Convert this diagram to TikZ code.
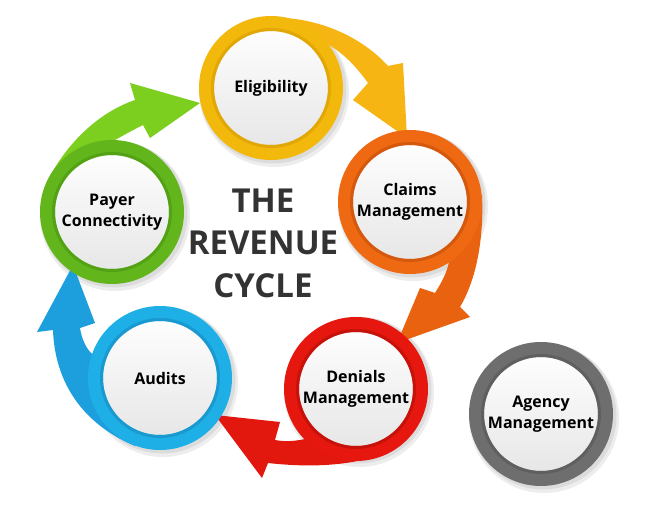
\documentclass[tikz,border=0pt]{standalone}
\usepackage{fontspec}
\setmainfont{Open Sans}
\definecolor{yelA}{HTML}{F7B514}
\definecolor{yelR}{HTML}{F3B80C}
\definecolor{yelS}{HTML}{D9A005}
\definecolor{oraA}{HTML}{E9620F}
\definecolor{oraR}{HTML}{EE6912}
\definecolor{oraS}{HTML}{C9520B}
\definecolor{redA}{HTML}{E2180F}
\definecolor{redR}{HTML}{E5170E}
\definecolor{redS}{HTML}{B91009}
\definecolor{bluA}{HTML}{1C9FDC}
\definecolor{bluR}{HTML}{1FAFE7}
\definecolor{bluS}{HTML}{1690C5}
\definecolor{grnA}{HTML}{7CCF1F}
\definecolor{grnR}{HTML}{62B61C}
\definecolor{grnS}{HTML}{4E9A14}
\definecolor{gryR}{HTML}{6E6E6E}
\definecolor{gryS}{HTML}{5A5A5A}
\definecolor{titlec}{HTML}{333333}
\tikzset{
  ringnode/.style={circle, minimum size=129pt, inner sep=0pt, line width=15pt,
    draw=#1, top color=white, bottom color=black!10,
    font=\bfseries\fontsize{16}{20.5}\selectfont, align=center, text=black},
  ringshadow/.style={fill=black, opacity=0.07},
  innerstrip/.style={draw=#1, line width=3pt, opacity=0.7}
}
\begin{document}
\begin{tikzpicture}[x=1pt,y=-1pt]
\useasboundingbox (0,0) rectangle (650,505);
\fill[white] (0,0) rectangle (650,505);
% shadows
\foreach \cx/\cy in {271/88,410/202,356/388,160/378,112/212,541/414}{
  \fill[ringshadow] (\cx+3,\cy+4) circle (75pt);
  \fill[ringshadow] (\cx+2,\cy+2) circle (73.5pt);
}
% arrows
\fill[yelA] (255,19) .. controls (310,12) and (360,35) .. (388,66) -- (403,63) -- (407,138) -- (353,100) -- (368,83) .. controls (355,65) and (342,52) .. (327,44) -- (271,88) -- cycle;
\fill[oraA] (482,195) .. controls (484,240) and (476,280) .. (460,307) -- (470,317) -- (397,343) -- (420,288) -- (435,293) .. controls (442,282) and (447,272) .. (449,262) -- (410,202) -- cycle;
\fill[redA] (410,436) .. controls (385,462) and (330,470) .. (268,463) -- (262,478) -- (215,415) -- (280,422) -- (275,440) .. controls (285,442) and (296,441) .. (305,439) -- (356,388) -- cycle;
\fill[bluA] (135,446) .. controls (85,425) and (55,385) .. (53,330) -- (37,332) -- (73,265) -- (95,323) -- (80,328) .. controls (82,340) and (86,348) .. (92,354) -- (160,378) -- cycle;
\fill[grnA] (50,176) .. controls (70,140) and (100,112) .. (135,100) -- (130,83) -- (200,103) -- (150,138) -- (143,125) .. controls (133,130) and (124,135) .. (115,140) -- (112,212) -- cycle;
% rings
\node[ringnode=yelR] (elig) at (271,88) {Eligibility};
\node[ringnode=oraR] (claims) at (410,202) {Claims\\Management};
\node[ringnode=redR] (denials) at (356,389) {Denials\\Management};
\node[ringnode=bluR] (audits) at (160,378) {Audits};
\node[ringnode=grnR] (payer) at (112,212) {Payer\\Connectivity};
\node[ringnode=gryR] (agency) at (541,414) {Agency\\Management};
\draw[innerstrip=yelS] (elig.center) circle (58.5pt);
\draw[innerstrip=oraS] (claims.center) circle (58.5pt);
\draw[innerstrip=redS] (denials.center) circle (58.5pt);
\draw[innerstrip=bluS] (audits.center) circle (58.5pt);
\draw[innerstrip=grnS] (payer.center) circle (58.5pt);
\draw[innerstrip=gryS] (agency.center) circle (58.5pt);
% title
\node[font=\bfseries\fontsize{33}{42.5}\selectfont, text=titlec, align=center] (title) at (263,243) {THE\\REVENUE\\CYCLE};
\end{tikzpicture}
\end{document}
